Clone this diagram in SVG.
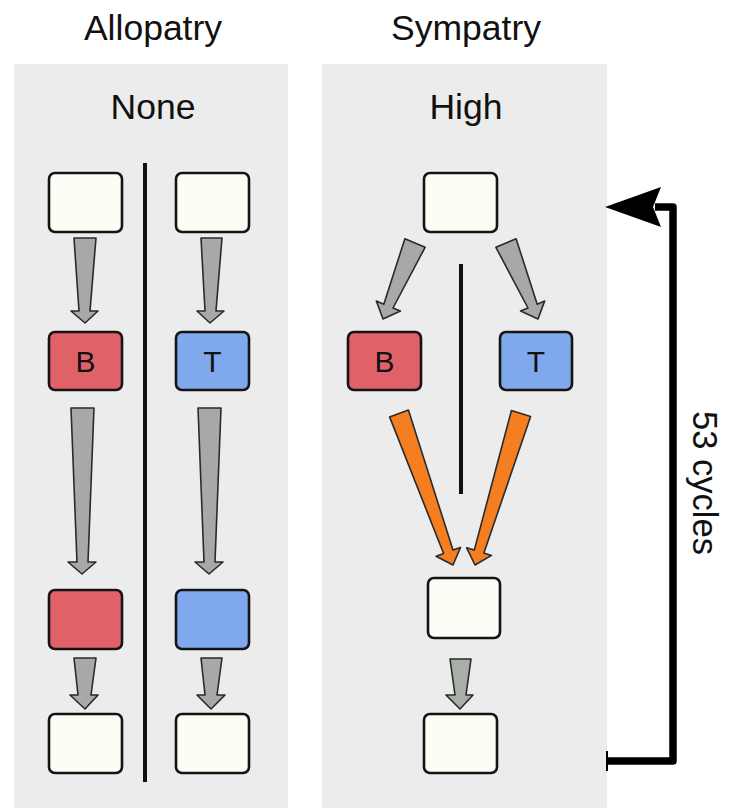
<svg xmlns="http://www.w3.org/2000/svg" width="731" height="808" viewBox="0 0 731 808">
<style>
.panel{fill:#ececec}
.t{font-family:"Liberation Sans",Arial,sans-serif;fill:#111;text-anchor:middle}
.title{font-size:35.5px}
.lab{font-size:30px}
.box{stroke:#141414;stroke-width:2.6}
.w{fill:#fcfdf5}
.r{fill:#e06167}
.b{fill:#80a8ec}
.ga{fill:#a8a8a8;stroke:#2a2a2a;stroke-width:1.6;stroke-linejoin:round}
.oa{fill:#f57f20;stroke:#2a2a2a;stroke-width:1.6;stroke-linejoin:round}
.div{stroke:#111;stroke-width:4;fill:none}
</style>
<rect width="731" height="808" fill="#ffffff"/>
<rect class="panel" x="14" y="64" width="274" height="744"/>
<rect class="panel" x="322" y="64" width="285" height="744"/>
<text class="t title" x="153" y="40">Allopatry</text>
<text class="t title" x="466" y="40">Sympatry</text>
<text class="t title" x="153" y="119">None</text>
<text class="t title" x="466" y="119">High</text>

<g id="dividers">
<line class="div" x1="145" y1="163" x2="145" y2="782"/>
<line class="div" x1="461" y1="264" x2="461" y2="494"/>
</g>

<g id="connectors">
<polygon class="ga" points="74,238 96,238 90,311 98,311 85,323 71,311 79,311"/>
<polygon class="ga" points="201,238 222,238 216,311 224,311 210,323 197,311 205,311"/>
<polygon class="ga" points="71,408 94,408 88,562 96,562 82,574 68,562 77,562"/>
<polygon class="ga" points="198,408 221,408 215,562 223,562 209,574 195,562 204,562"/>
<polygon class="ga" points="74,658 96,658 91,695 98,695 85,709 70,695 78,695"/>
<polygon class="ga" points="201,658 222,658 217,695 225,695 211,709 197,695 205,695"/>
<polygon class="ga" points="404.9,238.7 425.1,247.3 393,308 400.4,311.1 383,319 376.4,301.1 383.8,304.2"/>
<polygon class="ga" points="516.1,238.7 495.9,247.3 528,308 520.6,311.1 538,319 544.6,301.1 537.2,304.2"/>
<polygon class="oa" points="389.6,416.9 408.4,410.1 453,550.1 460.5,547.4 453,565 436.1,556.2 443.6,553.5"/>
<polygon class="oa" points="511.4,410.6 530.6,416.4 483.9,553.1 491.5,555.4 475,565 466.7,547.8 474.3,550.1"/>
<polygon class="ga" points="450,659 471,659 466,695 473,695 460,709 446,695 455,695" style="fill:#a9aea9"/>
<path d="M607 761 H673 V207 H655" fill="none" stroke="#000" stroke-width="7.5" stroke-linejoin="round"/>
<polygon points="605,207 661,187 653,207 661,227" fill="#000"/>
<line x1="607" y1="751" x2="607" y2="771" stroke="#000" stroke-width="2"/>
</g>

<g id="n1"><rect class="box w" x="49" y="173" width="73" height="59" rx="6"/></g>
<g id="n2"><rect class="box w" x="176" y="173" width="73" height="59" rx="6"/></g>
<g id="n3"><rect class="box r" x="49" y="332" width="73" height="58" rx="6"/><text class="t lab" x="85.5" y="372">B</text></g>
<g id="n4"><rect class="box b" x="176" y="332" width="73" height="58" rx="6"/><text class="t lab" x="212.5" y="372">T</text></g>
<g id="n5"><rect class="box r" x="49" y="590" width="73" height="59" rx="6"/></g>
<g id="n6"><rect class="box b" x="176" y="590" width="73" height="59" rx="6"/></g>
<g id="n7"><rect class="box w" x="49" y="714" width="73" height="59" rx="6"/></g>
<g id="n8"><rect class="box w" x="176" y="714" width="73" height="59" rx="6"/></g>
<g id="n9"><rect class="box w" x="424" y="173" width="73" height="59" rx="6"/></g>
<g id="n10"><rect class="box r" x="348" y="332" width="73" height="58" rx="6"/><text class="t lab" x="384.5" y="372">B</text></g>
<g id="n11"><rect class="box b" x="500" y="332" width="72" height="58" rx="6"/><text class="t lab" x="536" y="372">T</text></g>
<g id="n12"><rect class="box w" x="428" y="578" width="72" height="60" rx="6"/></g>
<g id="n13"><rect class="box w" x="424" y="714" width="73" height="59" rx="6"/></g>

<text class="t" font-size="34.5" transform="translate(693,483) rotate(90)">53 cycles</text>
</svg>
